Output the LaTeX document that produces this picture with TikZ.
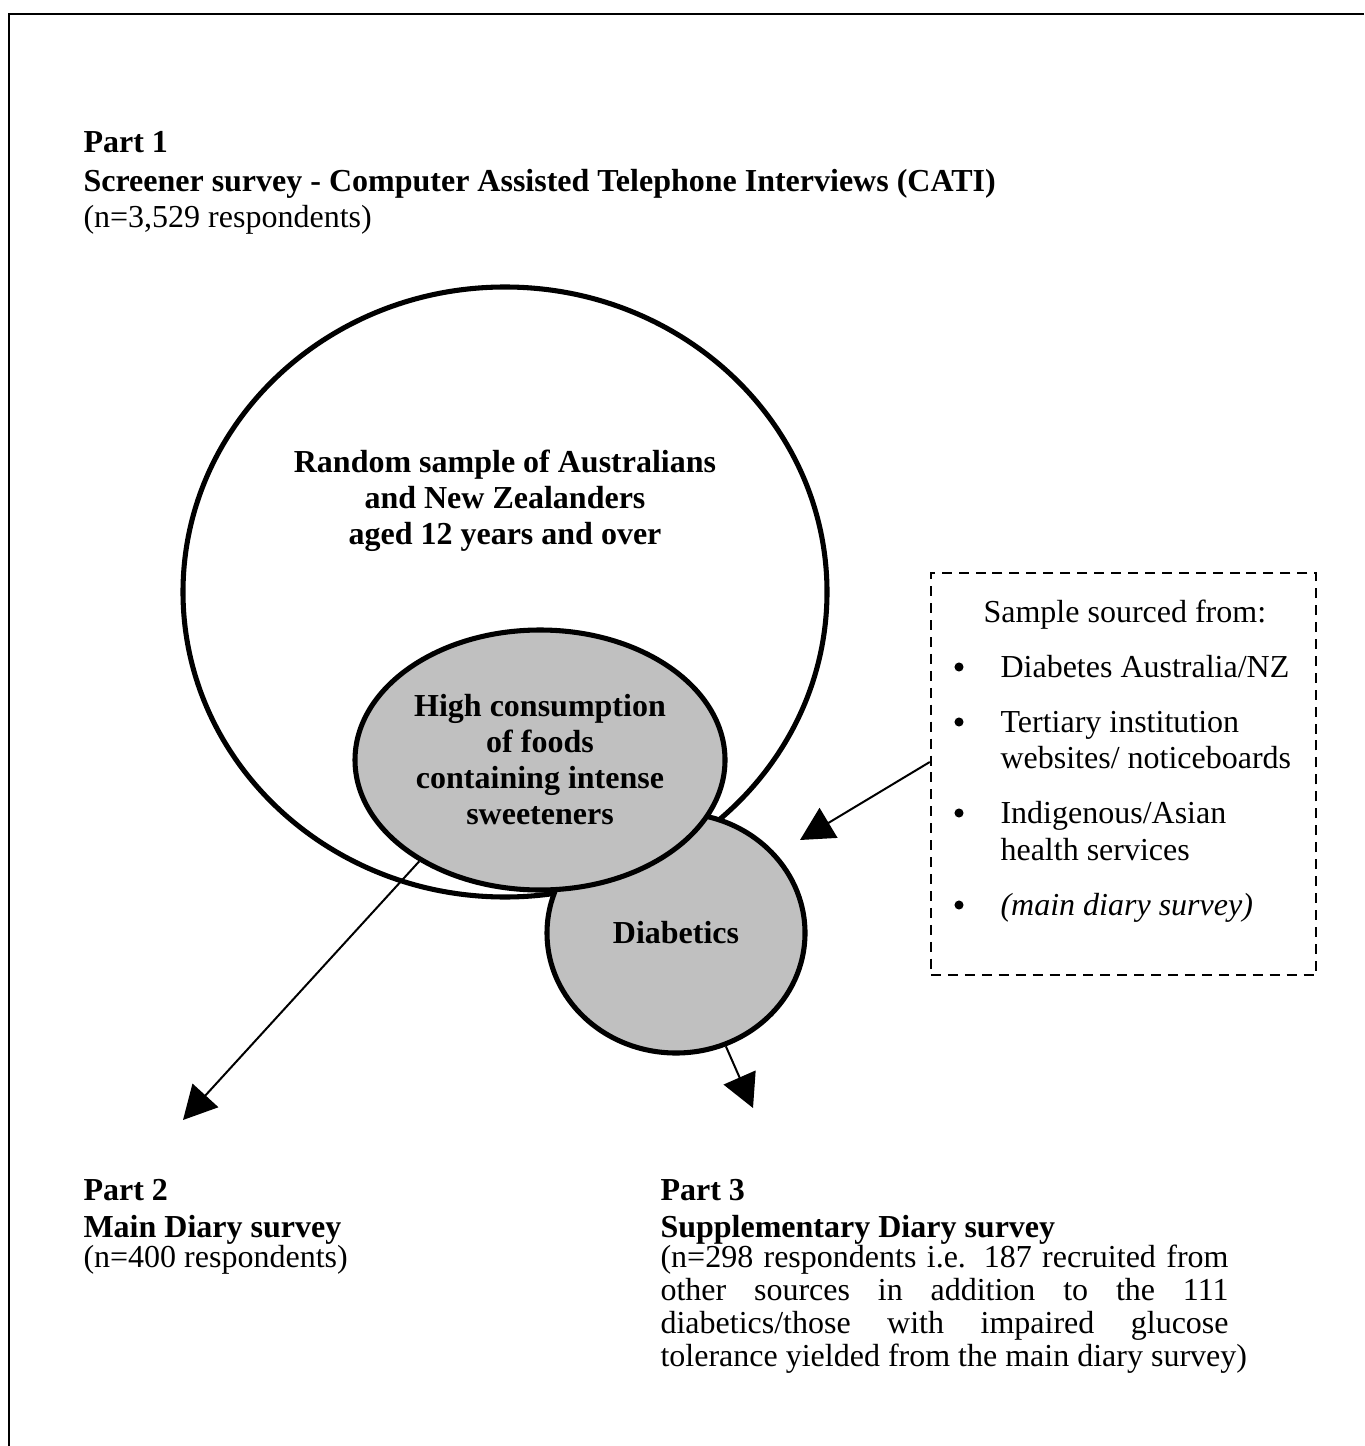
\documentclass[tikz,border=0pt]{standalone}
\usepackage{fontspec}
\setmainfont{Liberation Serif}
\usetikzlibrary{shapes.geometric,calc,arrows.meta,positioning}
\definecolor{blobgrey}{RGB}{192,192,192}
\newcommand{\basefont}{\fontsize{12pt}{13.5pt}\selectfont}

\begin{document}
\begin{tikzpicture}[x=0.375pt,y=-0.375pt, every node/.style={font=\basefont},
    blob/.style={ellipse, draw, line width=1.9pt, inner sep=0pt, align=center, font=\basefont\bfseries},
    flow/.style={-{Triangle[length=12.5pt,width=13pt]}, line width=0.75pt},
    txt/.style={anchor=base west, inner sep=0pt},
    hd/.style={txt, font=\basefont\bfseries}]
    \useasboundingbox (0,0) rectangle (1364,1446);
    \draw[line width=0.75pt] (9,1446) -- (9,14) -- (1364,14);

    % part 1
    \node[hd] (p1) at (83,153) {Part 1};
    \node[hd] (p1title) at (83,192) {Screener survey - Computer Assisted Telephone Interviews (CATI)};
    \node[txt] (p1n) at (83,228) {(n=3,529 respondents)};

    % sample sets
    \node[blob, minimum width=241.5pt, minimum height=228.75pt] (pop) at (505,592) {};
    \node[font=\basefont\bfseries, align=center] (poplbl) at (505,501) {Random sample of Australians\\and New Zealanders\\aged 12 years and over};
    \node[blob, fill=blobgrey, minimum width=96.75pt, minimum height=90pt] (dia) at (676,933) {Diabetics};
    \node[blob, fill=blobgrey, minimum width=138.75pt, minimum height=97.5pt] (hc) at (540,760) {High consumption\\of foods\\containing intense\\sweeteners};

    % other sources
    \node[draw, line width=0.9pt, dash pattern=on 3.75pt off 2.6pt, minimum width=144.4pt, minimum height=150.75pt] (src) at (1123.5,774) {};
    \node[txt] (srchd) at (983,622) {Sample sourced from:};
    \foreach \yy [count=\i] in {677,732,823,915}
        \node[circle, fill, inner sep=0pt, minimum size=3.4pt] (bul\i) at (959,\yy-10) {};
    \node[txt] (src1) at (1000,677) {Diabetes Australia/NZ};
    \node[txt] (src2a) at (1000,732) {Tertiary institution};
    \node[txt] (src2b) at (1000,768) {websites/ noticeboards};
    \node[txt] (src3a) at (1000,823) {Indigenous/Asian};
    \node[txt] (src3b) at (1000,860) {health services};
    \node[txt, font=\basefont\itshape] (src4) at (1000,915) {(main diary survey)};

    % arrows
    \coordinate (p2tip) at (183,1120);
    \coordinate (p3tip) at (753,1108);
    \coordinate (diatip) at (800,840);
    \draw[flow] (hc.220) -- (p2tip);
    \draw[flow] (dia) -- (p3tip);
    \draw[flow] ($(src.west)+(0,-12)$) -- (diatip);

    % parts 2 and 3
    \node[hd] (p2) at (83,1200) {Part 2};
    \node[hd] (p2title) at (83,1237) {Main Diary survey};
    \node[txt] (p2n) at (83,1267) {(n=400 respondents)};
    \node[hd] (p3) at (660,1200) {Part 3};
    \node[hd] (p3title) at (660,1237) {Supplementary Diary survey};
    \node[txt] (p3n1) at (660,1267) {\makebox[213pt][s]{(n=298 respondents i.e. 187 recruited from}};
    \node[txt] (p3n2) at (660,1300) {\makebox[213pt][s]{other sources in addition to the 111}};
    \node[txt] (p3n3) at (660,1333) {\makebox[213pt][s]{diabetics/those with impaired glucose}};
    \node[txt] (p3n4) at (660,1366) {tolerance yielded from the main diary survey)};
\end{tikzpicture}
\end{document}
